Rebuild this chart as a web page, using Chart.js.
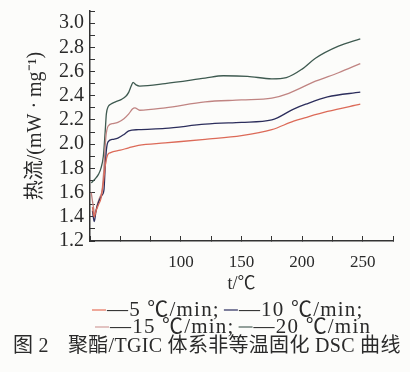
<!DOCTYPE html>
<html><head><meta charset="utf-8">
<script src="https://cdn.jsdelivr.net/npm/chart.js@4/dist/chart.umd.min.js"></script>
<style>html,body{margin:0;padding:0;background:#fcfcfa;}#wrap{width:410px;height:372px;position:relative}</style>
</head><body><div id="wrap"><canvas id="c" width="410" height="372"></canvas></div>
<script>
// ---- data ----
const seriesLabels = ['5 ℃/min', '10 ℃/min', '15 ℃/min', '20 ℃/min'];
const seriesColors = ['#dc6a58', '#2c2e5c', '#c08482', '#3e5a50'];
const legendColors = ['#e87a66', '#3a3c6a', '#d4a4a2', '#5a6e66'];
const xTickLabels = [100, 150, 200, 250];

const t5  = [27, 28.5, 30, 32, 34, 36, 38, 39.5, 42, 50, 57, 65, 87, 120, 150, 175, 193, 203, 221, 248];
const hf5 = [1.48, 1.40, 1.45, 1.50, 1.55, 1.68, 1.85, 1.91, 1.93, 1.95, 1.97, 1.99, 2.01, 2.04, 2.07, 2.12, 2.19, 2.22, 2.27, 2.33];

const t10  = [27, 28.5, 30, 32, 35, 36.5, 37.5, 38.5, 40, 44, 48, 53, 57, 65, 87, 120, 150, 175, 193, 203, 221, 248];
const hf10 = [1.45, 1.36, 1.45, 1.52, 1.58, 1.62, 1.80, 1.95, 2.02, 2.04, 2.05, 2.08, 2.11, 2.12, 2.13, 2.165, 2.18, 2.20, 2.29, 2.33, 2.39, 2.43];

const t15  = [26, 27.5, 29, 31, 33, 35, 36.5, 38, 40, 44, 48, 53, 57, 60, 62, 66, 87, 120, 150, 175, 189, 211, 230, 248];
const hf15 = [1.60, 1.50, 1.42, 1.50, 1.56, 1.62, 1.80, 2.05, 2.15, 2.17, 2.18, 2.21, 2.25, 2.29, 2.30, 2.28, 2.30, 2.35, 2.365, 2.38, 2.42, 2.52, 2.59, 2.665];

const t20  = [26, 29, 32, 34, 36, 37.5, 38.5, 40, 42, 46, 51, 55, 57, 59, 60.5, 63, 66, 87, 120, 135, 155, 175, 187, 200, 211, 230, 248];
const hf20 = [1.68, 1.71, 1.75, 1.80, 1.90, 2.10, 2.25, 2.31, 2.33, 2.35, 2.37, 2.40, 2.43, 2.48, 2.51, 2.49, 2.48, 2.50, 2.545, 2.565, 2.56, 2.54, 2.55, 2.62, 2.71, 2.81, 2.87];

const allT = [t5, t10, t15, t20];
const allHF = [hf5, hf10, hf15, hf20];

const FONT = "'Liberation Serif','Noto Sans CJK SC',serif";

const datasets = allT.map((t, k) => ({
  label: seriesLabels[k],
  data: t.map((x, i) => ({x: x, y: allHF[k][i]})),
  borderColor: seriesColors[k],
  borderWidth: 1.3,
  pointRadius: 0,
  fill: false,
  cubicInterpolationMode: 'monotone'
}));

const annot = {
  id: 'annot',
  afterDraw(chart) {
    const ctx = chart.ctx;
    ctx.save();
    ctx.fillStyle = '#2a2a2a';
    ctx.textBaseline = 'middle';
    ctx.font = '21px ' + FONT;
    ctx.letterSpacing = '1.2px';
    const rows = [
      {y: 310, x: 92, ks: [0, 1], txt: ['—5 ℃/min;', '—10 ℃/min;']},
      {y: 327, x: 95, ks: [2, 3], txt: ['—15 ℃/min;', '—20 ℃/min']}
    ];
    rows.forEach(r => {
      let x = r.x;
      r.ks.forEach((k, j) => {
        ctx.strokeStyle = legendColors[k];
        ctx.lineWidth = 1.3;
        ctx.beginPath(); ctx.moveTo(x, r.y); ctx.lineTo(x + 14, r.y); ctx.stroke();
        ctx.fillText(r.txt[j], x + 15, r.y);
        x += 15 + ctx.measureText(r.txt[j]).width + 4;
      });
    });
    ctx.font = '20px ' + FONT;
    ctx.letterSpacing = '0.3px';
    ctx.fillText('图 2', 13, 347);
    ctx.fillText('聚酯/TGIC 体系非等温固化 DSC 曲线', 68, 347);
    ctx.restore();
  }
};

new Chart(document.getElementById('c'), {
  type: 'line',
  data: {datasets: datasets},
  plugins: [annot],
  options: {
    responsive: false,
    animation: false,
    devicePixelRatio: 1,
    layout: {padding: {left: 0, right: 17, top: 11, bottom: 77}},
    plugins: {legend: {display: false}, tooltip: {enabled: false}},
    scales: {
      x: {
        type: 'linear', min: 25, max: 275,
        afterFit(s) { s.height = 54; s.paddingLeft = 0; s.paddingRight = 0; },
        border: {color: '#333', width: 1.5},
        grid: {drawOnChartArea: false, drawTicks: true, tickLength: -5, color: '#333'},
        ticks: {
          stepSize: 25, padding: 16, color: '#2a2a2a', maxRotation: 0, autoSkip: false,
          font: {family: FONT, size: 17},
          callback: v => xTickLabels.includes(v) ? String(v) : ''
        },
        title: {display: true, text: 't/℃', color: '#2a2a2a', font: {family: FONT, size: 18}, padding: {top: 0, bottom: 0}}
      },
      y: {
        min: 1.2, max: 3.1,
        afterFit(s) { s.width = 90; s.paddingTop = 0; s.paddingBottom = 0; },
        border: {color: '#333', width: 1.5},
        grid: {drawOnChartArea: false, drawTicks: true, tickLength: -5, color: '#333'},
        ticks: {
          stepSize: 0.1, padding: 11, color: '#2a2a2a', autoSkip: false,
          font: {family: FONT, size: 20},
          callback: v => (Math.round(v * 10) % 2 === 0) ? v.toFixed(1) : ''
        },
        title: {display: true, text: '热流/(mW · mg⁻¹)', color: '#2a2a2a', font: {family: FONT, size: 20}, padding: {top: 24, bottom: 0}}
      }
    }
  }
});
</script></body></html>
